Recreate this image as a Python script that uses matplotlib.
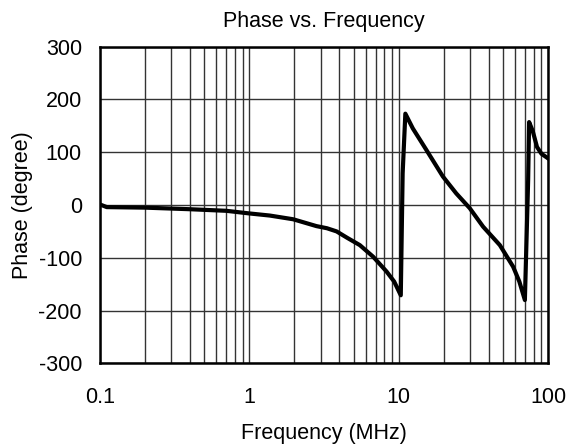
import matplotlib
matplotlib.use("Agg")
import matplotlib.pyplot as plt
from matplotlib.ticker import LogLocator, NullFormatter

plt.rcParams['font.family'] = ['Liberation Sans', 'DejaVu Sans']
plt.rcParams['axes.unicode_minus'] = False

freq_mhz = [0.1, 0.111, 0.2, 0.4, 0.7, 1.0, 1.37, 1.96, 2.81, 3.3, 3.83, 4.5, 5.48,
            6.73, 8.27, 9.3, 10.3, 10.6, 11.05, 12.4, 15.3, 19.7, 24.2,
            29.8, 36.6, 47.4, 58.2, 64.0, 69.7, 73.3, 74.4, 78.7, 84.0,
            90.0, 100.0]
phase_deg = [1, -4, -5, -8, -11, -16, -20, -27, -40, -44, -50, -62, -76,
             -98, -126, -145, -171, 60, 173, 145, 104, 54, 22,
             -6, -41, -76, -117, -145, -180, 47, 157, 140, 110,
             97, 88]

fig = plt.figure(figsize=(5.66, 4.47), dpi=100)
ax = fig.add_axes([100/566, 1-363.4/447, 448.3/566, 316.8/447])

ax.plot(freq_mhz, phase_deg, color='black', linewidth=3.0, solid_joinstyle='round')

ax.set_xscale('log')
ax.set_xlim(0.1, 100)
ax.set_ylim(-300, 300)
ax.set_xticks([0.1, 1, 10, 100])
ax.set_xticklabels(['0.1', '1', '10', '100'])
ax.xaxis.set_minor_locator(LogLocator(base=10, subs=range(2, 10)))
ax.xaxis.set_minor_formatter(NullFormatter())
ax.set_yticks(range(-300, 301, 100))
ax.grid(True, which='both', axis='x', color='#333333', linewidth=1.0)
ax.grid(True, which='major', axis='y', color='#333333', linewidth=1.0)
ax.tick_params(which='both', length=0, labelsize=15.5)
ax.tick_params(axis='x', pad=17)
ax.tick_params(axis='y', pad=13)
for s in ax.spines.values():
    s.set_linewidth(1.8)

ax.set_title('Phase vs. Frequency', fontsize=15.5, pad=14)
ax.set_xlabel('Frequency (MHz)', fontsize=15.5, labelpad=11)
ax.set_ylabel('Phase (degree)', fontsize=15.5, labelpad=4)

fig.savefig('out.png', dpi=100)
